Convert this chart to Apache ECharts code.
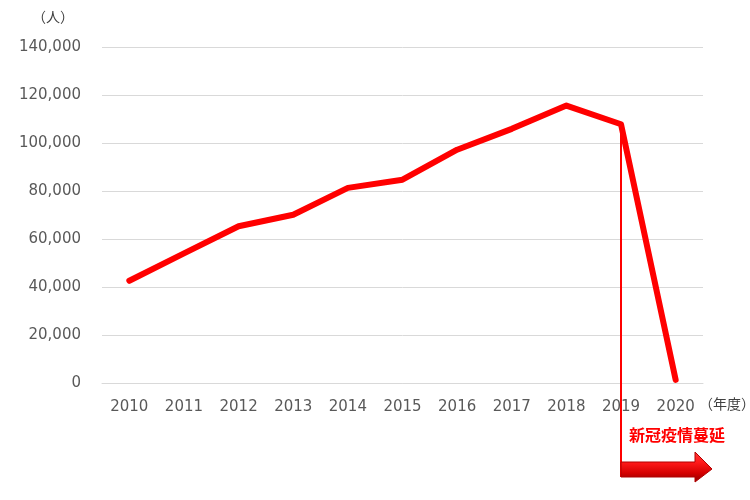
<!DOCTYPE html>
<html>
<head>
<meta charset="utf-8">
<script src="https://cdn.jsdelivr.net/npm/echarts@6/dist/echarts.min.js"></script>
<style>
    html, body { margin: 0; padding: 0; background: #fff; }
    #main { width: 750px; height: 500px; }
</style>
</head>
<body>
<div id="main"></div>
<script>
const years = ["2010", "2011", "2012", "2013", "2014", "2015", "2016", "2017", "2018", "2019", "2020"];
const visitors = [42600, 54000, 65300, 70100, 81300, 84700, 97200, 105900, 115600, 107800, 1300];
const covidYear = "2019";
const covidLabel = "新冠疫情蔓延";

const chart = echarts.init(document.getElementById("main"));
const axisFont = "DejaVu Sans, Verdana, sans-serif";

chart.setOption({
    animation: false,
    grid: { left: 102, right: 47, top: 47, bottom: 117 },
    xAxis: {
        type: "category",
        data: years,
        axisLine: { lineStyle: { color: "#d9d9d9" } },
        axisTick: { show: false },
        axisLabel: { color: "#595959", fontSize: 15, fontFamily: axisFont, margin: 17 }
    },
    yAxis: {
        type: "value",
        min: 0,
        max: 140000,
        interval: 20000,
        axisLine: { show: false },
        axisTick: { show: false },
        splitLine: { lineStyle: { color: "#d9d9d9" } },
        axisLabel: {
            color: "#595959",
            fontSize: 15,
            fontFamily: axisFont,
            margin: 21,
            formatter: v => v.toLocaleString("en-US")
        }
    },
    series: [
        {
            type: "line",
            data: visitors,
            symbol: "none",
            lineStyle: { color: "#ff0000", width: 6, cap: "round", join: "round" }
        }
    ]
});

// annotation: drop line from 2019 point + arrow + label
const top19 = chart.convertToPixel({ seriesIndex: 0 }, [covidYear, visitors[years.indexOf(covidYear)]]);
const x0 = Math.round(top19[0]);
const arrowY = 469;

chart.setOption({
    graphic: [
        {
            type: "text",
            left: 32,
            top: 10,
            style: { text: "（人）", fill: "#404040", fontSize: 14, fontFamily: "Noto Sans CJK JP" }
        },
        {
            type: "text",
            left: 699,
            top: 397,
            style: { text: "（年度）", fill: "#404040", fontSize: 14, fontFamily: "Noto Sans CJK JP" }
        },
        {
            type: "line",
            shape: { x1: x0, y1: top19[1], x2: x0, y2: arrowY + 8 },
            style: { stroke: "#ff0000", lineWidth: 2 },
            z: 1
        },
        {
            type: "polygon",
            shape: {
                points: [
                    [x0, arrowY - 7], [695, arrowY - 7], [695, arrowY - 17],
                    [712, arrowY], [695, arrowY + 13], [695, arrowY + 8], [x0, arrowY + 8]
                ]
            },
            style: {
                fill: new echarts.graphic.LinearGradient(0, 0, 0, 1, [
                    { offset: 0, color: "#ff3a3a" },
                    { offset: 0.35, color: "#ff1a1a" },
                    { offset: 0.7, color: "#d40000" },
                    { offset: 1, color: "#8b0000" }
                ]),
                stroke: "#b00000",
                lineWidth: 1
            },
            z: 2
        },
        {
            type: "text",
            x: 677,
            y: 435,
            style: {
                text: covidLabel,
                fill: "#ff0000",
                fontSize: 16,
                fontWeight: "bold",
                fontFamily: "Noto Sans CJK JP",
                align: "center",
                verticalAlign: "middle"
            }
        }
    ]
});

window.addEventListener("resize", () => chart.resize());
</script>
</body>
</html>
